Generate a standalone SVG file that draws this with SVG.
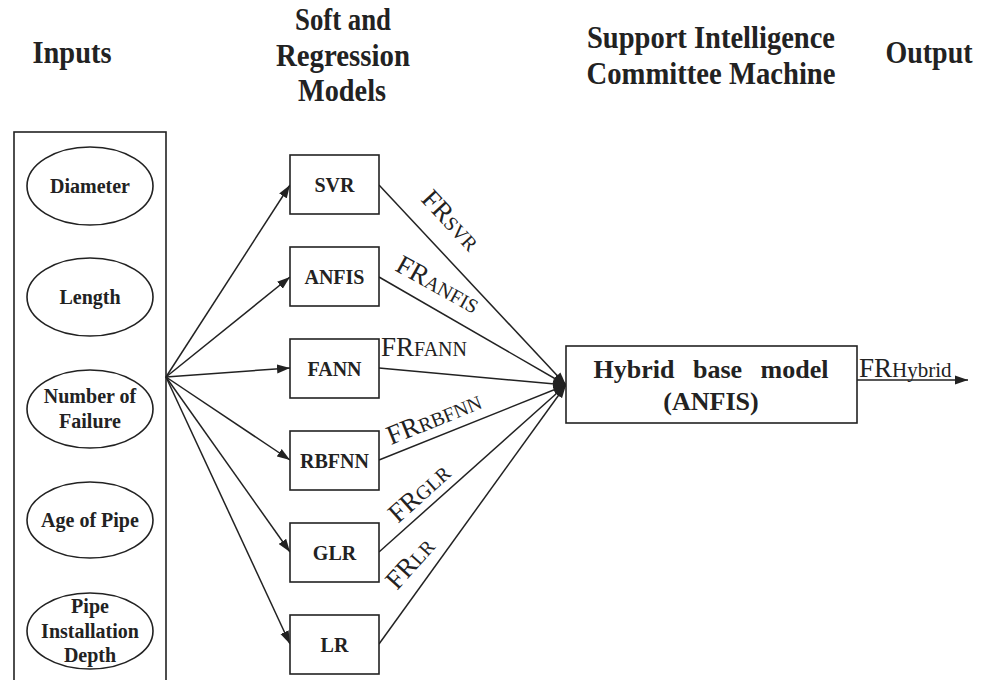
<svg xmlns="http://www.w3.org/2000/svg" width="988" height="680" viewBox="0 0 988 680">
<style>
.hd{font-family:"Liberation Serif","Times New Roman",serif;font-weight:bold;font-size:32px;fill:#222;text-anchor:middle}
.nt{font-family:"Liberation Serif","Times New Roman",serif;font-weight:bold;font-size:20px;fill:#222;text-anchor:middle}
.box{fill:#fff;stroke:#222;stroke-width:1.6}
.ln{stroke:#222;stroke-width:1.5;fill:none}
.fr{font-family:"Liberation Serif","Times New Roman",serif;font-size:27px;fill:#222}
.sb{font-size:20px}
</style>
<defs>
<marker id="ah" markerUnits="userSpaceOnUse" markerWidth="14" markerHeight="10" refX="13" refY="5" orient="auto">
<path d="M0,0.5 L13,5 L0,9.5 z" fill="#222"/>
</marker>
</defs>
<rect width="988" height="680" fill="#fff"/>
<g id="headers">
<text class="hd" x="72" y="63" textLength="79" lengthAdjust="spacingAndGlyphs">Inputs</text>
<text class="hd" x="343" y="30" textLength="96" lengthAdjust="spacingAndGlyphs">Soft and</text>
<text class="hd" x="343" y="66" textLength="134" lengthAdjust="spacingAndGlyphs">Regression</text>
<text class="hd" x="342" y="101" textLength="88" lengthAdjust="spacingAndGlyphs">Models</text>
<text class="hd" x="711" y="48" textLength="248" lengthAdjust="spacingAndGlyphs">Support Intelligence</text>
<text class="hd" x="711" y="84" textLength="249" lengthAdjust="spacingAndGlyphs">Committee Machine</text>
<text class="hd" x="929" y="63" textLength="87" lengthAdjust="spacingAndGlyphs">Output</text>
</g>
<g id="inputs">
<rect class="box" x="14" y="132" width="152" height="560"/>
<g id="in-diameter"><ellipse class="box" cx="90" cy="186" rx="63" ry="39"/><text class="nt" x="90" y="193">Diameter</text></g>
<g id="in-length"><ellipse class="box" cx="90" cy="297" rx="63" ry="39"/><text class="nt" x="90" y="304">Length</text></g>
<g id="in-failure"><ellipse class="box" cx="90" cy="409" rx="63" ry="39"/><text class="nt" x="90" y="403">Number of</text><text class="nt" x="90" y="428">Failure</text></g>
<g id="in-age"><ellipse class="box" cx="90" cy="520" rx="63" ry="38"/><text class="nt" x="90" y="527">Age of Pipe</text></g>
<g id="in-depth"><ellipse class="box" cx="90" cy="631" rx="63" ry="38"/><text class="nt" x="90" y="613">Pipe</text><text class="nt" x="90" y="638">Installation</text><text class="nt" x="90" y="662">Depth</text></g>
</g>
<g id="connectors">
<line class="ln" x1="166" y1="377" x2="290" y2="185" marker-end="url(#ah)"/>
<line class="ln" x1="166" y1="377" x2="290" y2="277" marker-end="url(#ah)"/>
<line class="ln" x1="166" y1="377" x2="290" y2="368" marker-end="url(#ah)"/>
<line class="ln" x1="166" y1="377" x2="290" y2="460" marker-end="url(#ah)"/>
<line class="ln" x1="166" y1="377" x2="290" y2="552" marker-end="url(#ah)"/>
<line class="ln" x1="166" y1="377" x2="290" y2="644" marker-end="url(#ah)"/>
<line class="ln" x1="379" y1="185" x2="566" y2="385" marker-end="url(#ah)"/>
<line class="ln" x1="379" y1="277" x2="566" y2="385" marker-end="url(#ah)"/>
<line class="ln" x1="379" y1="368" x2="566" y2="385" marker-end="url(#ah)"/>
<line class="ln" x1="379" y1="460" x2="566" y2="385" marker-end="url(#ah)"/>
<line class="ln" x1="379" y1="552" x2="566" y2="385" marker-end="url(#ah)"/>
<line class="ln" x1="379" y1="644" x2="566" y2="385" marker-end="url(#ah)"/>
<line class="ln" x1="857" y1="380" x2="968" y2="380" marker-end="url(#ah)"/>
<text class="fr" transform="translate(420,200) rotate(47)">FR<tspan class="sb">SVR</tspan></text>
<text class="fr" transform="translate(394,270) rotate(29)">FR<tspan class="sb">ANFIS</tspan></text>
<text class="fr" x="381" y="356">FR<tspan class="sb">FANN</tspan></text>
<text class="fr" transform="translate(391,445) rotate(-22)">FR<tspan class="sb">RBFNN</tspan></text>
<text class="fr" transform="translate(398,524) rotate(-42)">FR<tspan class="sb">GLR</tspan></text>
<text class="fr" transform="translate(397,591) rotate(-48)">FR<tspan class="sb">LR</tspan></text>
<text class="fr" x="859" y="377">FR<tspan class="sb" style="font-size:21px">Hybrid</tspan></text>
</g>
<g id="svr"><rect class="box" x="290" y="155" width="89" height="59"/><text class="nt" x="334.5" y="192">SVR</text></g>
<g id="anfis"><rect class="box" x="290" y="247" width="89" height="59"/><text class="nt" x="334.5" y="284">ANFIS</text></g>
<g id="fann"><rect class="box" x="290" y="339" width="89" height="59"/><text class="nt" x="334.5" y="376">FANN</text></g>
<g id="rbfnn"><rect class="box" x="290" y="431" width="89" height="59"/><text class="nt" x="334.5" y="468">RBFNN</text></g>
<g id="glr"><rect class="box" x="290" y="523" width="89" height="59"/><text class="nt" x="334.5" y="560">GLR</text></g>
<g id="lr"><rect class="box" x="290" y="615" width="89" height="59"/><text class="nt" x="334.5" y="652">LR</text></g>
<g id="hybrid"><rect class="box" x="566" y="346" width="291" height="77"/><text class="nt" x="711" y="378" style="font-size:26px;word-spacing:12px">Hybrid base model</text><text class="nt" x="711" y="410" style="font-size:26px">(ANFIS)</text></g>
</svg>
